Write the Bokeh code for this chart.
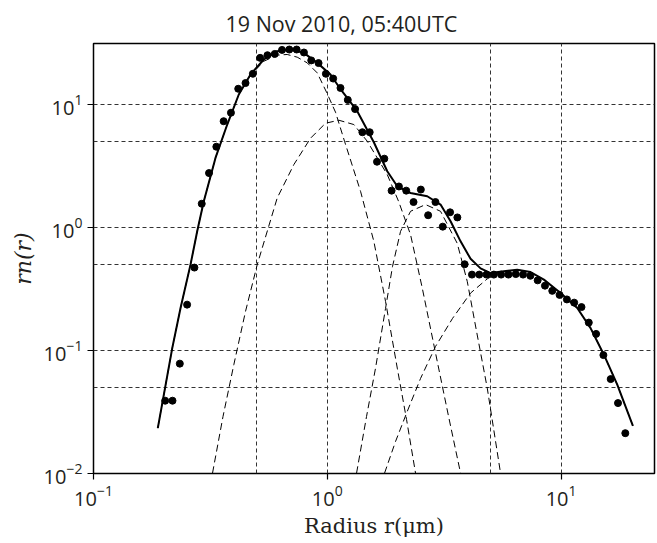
from bokeh.plotting import figure
from bokeh.models import FixedTicker, Range1d
from bokeh.embed import file_html
from bokeh.resources import INLINE

# ---- measured size distribution (dots) ----
radius = [0.2026, 0.2177, 0.2340, 0.2514, 0.2702, 0.2904, 0.3120, 0.3353, 0.3603, 0.3872,
          0.4160, 0.4470, 0.4804, 0.5162, 0.5547, 0.5960, 0.6404, 0.6882, 0.7396, 0.7947,
          0.8540, 0.9177, 0.9863, 1.0597, 1.1389, 1.2238, 1.3150, 1.4131, 1.5185, 1.6320,
          1.7537, 1.8843, 2.0251, 2.1760, 2.3387, 2.5130, 2.7003, 2.9021, 3.1184, 3.3515,
          3.6012, 3.8696, 4.1582, 4.4668, 4.8007, 5.1582, 5.5426, 5.9566, 6.4006, 6.8786,
          7.3909, 7.9415, 8.5347, 9.1706, 9.8560, 10.590, 11.379, 12.229, 13.140, 14.122,
          15.173, 16.303, 17.521, 18.826]
rn = [0.039, 0.039, 0.078, 0.235, 0.47, 1.55, 2.75, 4.5, 7.25, 8.5,
      13.3, 14.8, 17.6, 23.7, 24.9, 25.5, 27.5, 27.7, 27.7, 26.2,
      22.6, 21.5, 17.6, 16.1, 13.5, 10.8, 9.1, 5.9, 5.9, 3.4,
      3.6, 1.98, 2.14, 1.98, 1.60, 2.02, 1.25, 1.60, 1.01, 1.32,
      1.20, 0.50, 0.412, 0.412, 0.412, 0.412, 0.412, 0.412, 0.416, 0.412,
      0.403, 0.370, 0.335, 0.304, 0.282, 0.259, 0.244, 0.2245, 0.168, 0.136,
      0.0915, 0.0584, 0.0373, 0.02125]

# ---- total fit (solid) ----
fit_r = [0.1884, 0.2172, 0.2357, 0.2600, 0.2777, 0.2964, 0.3325, 0.3733, 0.4183, 0.4695,
         0.5354, 0.6107, 0.6965, 0.7939, 0.9058, 1.0325, 1.1394, 1.3434, 1.5818, 1.8052,
         1.9924, 2.2704, 2.6770, 3.0513, 3.3681, 3.7162, 4.1011, 4.5250, 4.9934, 5.6925,
         6.4940, 7.4061, 8.4430, 9.9517, 11.731, 13.375, 15.248, 17.393, 20.290]
fit_v = [0.02334, 0.1043, 0.2204, 0.4963, 0.9256, 1.623, 3.648, 6.813, 11.946, 17.365,
         22.99, 26.85, 27.72, 26.02, 21.58, 17.37, 13.19, 8.739, 4.893, 2.844,
         2.148, 1.895, 1.782, 1.526, 1.116, 0.7676, 0.5534, 0.4631, 0.4242, 0.4379,
         0.4520, 0.4321, 0.3750, 0.2918, 0.2204, 0.1516, 0.0922, 0.0526, 0.0244]

# ---- individual modes (dashed) ----
m1_r = [0.1884, 0.2172, 0.2357, 0.2600, 0.2777, 0.2964, 0.3325, 0.3733, 0.4183, 0.4695,
        0.5354, 0.6107, 0.6738, 0.7437, 0.8208, 0.9058, 0.9927, 1.0846, 1.1851, 1.3876,
        1.5818, 1.7750, 1.9924, 2.1827, 2.3852]
m1_v = [0.02334, 0.1043, 0.2204, 0.4963, 0.9256, 1.623, 3.648, 6.813, 11.90, 17.14,
        22.27, 24.92, 25.25, 24.01, 21.58, 17.89, 12.47, 8.579, 4.986, 1.956,
        0.7676, 0.2498, 0.07174, 0.02747, 0.01006]

m2_r = [0.3229, 0.3581, 0.3983, 0.4470, 0.5016, 0.6107, 0.7195, 0.8478, 0.9829, 1.1205,
        1.2990, 1.4823, 1.8052, 2.0177, 2.2704, 2.5485, 2.9541, 3.3022, 3.7162]
m2_v = [0.01006, 0.02905, 0.07643, 0.2072, 0.4963, 1.726, 3.224, 5.274, 6.982, 7.386,
        6.813, 4.986, 2.674, 1.623, 0.8703, 0.3204, 0.08128, 0.02905, 0.01006]

m3_r = [1.3342, 1.4721, 1.6086, 1.7750, 1.9017, 2.0580, 2.2704, 2.6324, 3.0513, 3.5962,
        3.9692, 4.3504, 4.8339, 5.5100]
m3_v = [0.01006, 0.02905, 0.07174, 0.2192, 0.4808, 0.9256, 1.346, 1.526, 1.346, 0.7395,
        0.3633, 0.1425, 0.04935, 0.01006]

m4_r = [1.7575, 1.9588, 2.1979, 2.5061, 2.9049, 3.4344, 4.1011, 4.8339, 5.2457, 5.6925,
        6.4940, 7.4061, 8.4430, 9.9517, 11.731, 13.375, 15.248, 17.393, 20.290]
m4_v = [0.01006, 0.01820, 0.03190, 0.05916, 0.1076, 0.1818, 0.2918, 0.3806, 0.4140, 0.4338,
        0.4504, 0.4321, 0.3750, 0.2918, 0.2204, 0.1516, 0.0922, 0.0526, 0.0244]

x_ticks = [0.1, 1, 10]
y_ticks = [0.01, 0.1, 1, 10]
x_grid = [0.5, 1, 5, 10]
y_grid = [0.05, 0.1, 0.5, 1, 5, 10]

SANS = "Open Sans"
SERIF = "DejaVu Serif"

p = figure(frame_width=561, frame_height=430,
           x_axis_type="log", y_axis_type="log",
           x_range=Range1d(0.1, 25.1), y_range=Range1d(0.01, 31),
           output_backend="svg", toolbar_location=None,
           min_border_left=93, min_border_right=3, min_border_top=42, min_border_bottom=64,
           title="19 Nov 2010, 05:40UTC")

p.title.align = "left"
p.title.offset = 132
p.title.standoff = 12
p.title.text_font = SANS
p.title.text_font_size = "21.5px"
p.title.text_font_style = "normal"
p.title.text_color = "#231f20"

p.outline_line_color = "black"
p.outline_line_width = 1.5
p.outline_line_alpha = 1.0
p.background_fill_color = "white"
p.border_fill_color = "white"

for ax, ticks in ((p.xaxis, x_ticks), (p.yaxis, y_ticks)):
    ax.ticker = FixedTicker(ticks=ticks, minor_ticks=[])
    ax.axis_line_color = None
    ax.major_tick_out = 6
    ax.major_tick_in = 0
    ax.major_tick_line_color = "black"
    ax.major_tick_line_width = 1.2
    ax.minor_tick_out = 0
    ax.minor_tick_in = 0
    ax.major_label_text_font = SANS
    ax.major_label_text_font_size = "20px"
    ax.major_label_text_color = "#231f20"

p.xaxis.axis_label = "Radius r(μm)"
p.xaxis.axis_label_text_font = SERIF
p.xaxis.axis_label_text_font_size = "21px"
p.xaxis.axis_label_text_font_style = "normal"
p.xaxis.axis_label_text_color = "#231f20"

p.yaxis.axis_label = "rn(r)"
p.yaxis.axis_label_text_font = SERIF
p.yaxis.axis_label_text_font_size = "22px"
p.yaxis.axis_label_text_font_style = "italic"
p.yaxis.axis_label_text_color = "#231f20"

p.xgrid.ticker = FixedTicker(ticks=x_grid, minor_ticks=[])
p.ygrid.ticker = FixedTicker(ticks=y_grid, minor_ticks=[])
for g in (p.xgrid, p.ygrid):
    g.grid_line_color = "#333333"
    g.grid_line_dash = "4 3"
    g.grid_line_width = 1
    g.grid_line_alpha = 1.0

for r_, v_ in ((m1_r, m1_v), (m2_r, m2_v), (m3_r, m3_v), (m4_r, m4_v)):
    p.line(r_, v_, line_color="black", line_width=1, line_dash="7 4")

p.line(fit_r, fit_v, line_color="black", line_width=2)
p.scatter(radius, rn, size=7, fill_color="black", line_color="black")

open("out.html", "w").write(file_html(p, INLINE))
